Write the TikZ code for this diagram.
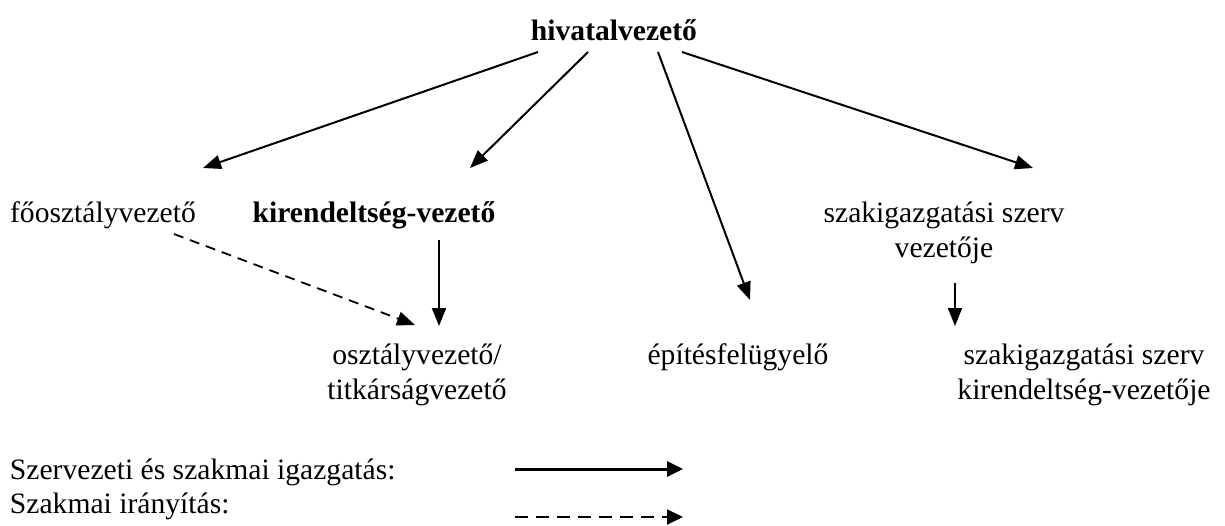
\documentclass[tikz,border=0pt]{standalone}
\usepackage{fontspec}
\setmainfont{Liberation Serif}
\usetikzlibrary{arrows.meta}
\begin{document}
\begin{tikzpicture}[x=0.5pt,y=-0.5pt,
  every node/.style={inner sep=0pt,outer sep=0pt,font=\fontsize{14.8}{17.5}\selectfont},
  lbl/.style={anchor=base},
  twoline/.style={anchor=base,align=center},
  conn/.style={line width=1pt,-{Triangle[length=9pt,width=7pt]}},
  dconn/.style={line width=0.9pt,dash pattern=on 5pt off 3.5pt,-{Triangle[length=9pt,width=7pt]}},
  legsolid/.style={line width=1.5pt,-{Triangle[length=8pt,width=7.5pt]}},
  legdash/.style={line width=0.9pt,dash pattern=on 6.5pt off 4pt,-{Triangle[length=8pt,width=7.5pt]}}]
\useasboundingbox (0,0) rectangle (1225,525);
% nodes (two-line nodes: base = baseline of last line)
\node[lbl,font=\fontsize{14.8}{17.5}\selectfont\bfseries] (hv) at (614,40) {hivatalvezető};
\node[lbl] (fo) at (103,222) {főosztályvezető};
\node[lbl,font=\fontsize{14.8}{17.5}\selectfont\bfseries] (kir) at (374,222) {kirendeltség-vezető};
\node[twoline] (szsz) at (944,257) {szakigazgatási szerv\\vezetője};
\node[twoline] (osz) at (417,399) {osztályvezető/\\titkárságvezető};
\node[lbl] (epit) at (738,364) {építésfelügyelő};
\node[twoline] (szk) at (1084,399) {szakigazgatási szerv\\kirendeltség-vezetője};
\node[anchor=base west] (leg1) at (10,479) {Szervezeti és szakmai igazgatás:};
\node[anchor=base west] (leg2) at (10,513) {Szakmai irányítás:};
% connector end points
\coordinate (hv1) at (538,52);
\coordinate (hv2) at (588,52);
\coordinate (hv3) at (658,52);
\coordinate (hv4) at (682,52);
\coordinate (foin) at (203,168);
\coordinate (kirin) at (470,168);
\coordinate (epitin) at (750,300);
\coordinate (szszin) at (1033,168);
\coordinate (kirout) at (439,240);
\coordinate (oszin) at (439,326);
\coordinate (foout) at (174,234);
\coordinate (oszin2) at (415,325);
\coordinate (szszout) at (955,283);
\coordinate (szkin) at (955,326);
\coordinate (ls1) at (515,469);
\coordinate (ls2) at (683,469);
\coordinate (ld1) at (515,517);
\coordinate (ld2) at (683,517);
% connectors
\draw[conn] (hv1) -- (foin);
\draw[conn] (hv2) -- (kirin);
\draw[conn] (hv3) -- (epitin);
\draw[conn] (hv4) -- (szszin);
\draw[conn] (kirout) -- (oszin);
\draw[dconn] (foout) -- (oszin2);
\draw[conn] (szszout) -- (szkin);
\draw[legsolid] (ls1) -- (ls2);
\draw[legdash] (ld1) -- (ld2);
\end{tikzpicture}
\end{document}
